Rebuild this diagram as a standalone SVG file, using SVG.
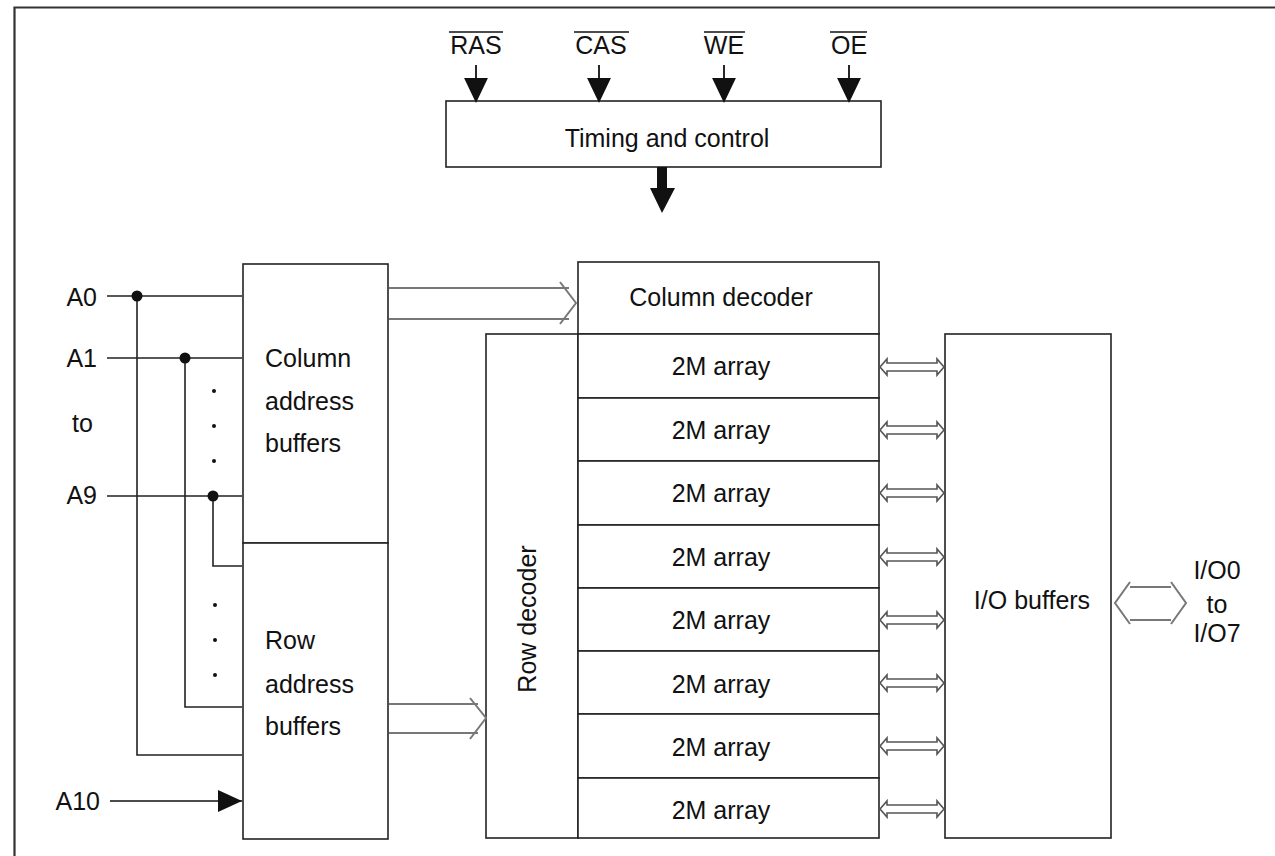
<svg xmlns="http://www.w3.org/2000/svg" width="1275" height="856" viewBox="0 0 1275 856">
<style>
text{font-family:"Liberation Sans",Arial,sans-serif;font-size:25px;fill:#111}
.box{fill:#fff;stroke:#222;stroke-width:1.6}
.w{stroke:#222;stroke-width:1.6;fill:none}
.hol{fill:#fff;stroke:#555;stroke-width:1.6;stroke-linejoin:miter}
.big{fill:none;stroke:#777;stroke-width:2}
.m{text-anchor:middle}
</style>
<defs>
<path id="dbl" d="M880,0 L887,-8 L887,-4 L937,-4 L937,-8 L944,0 L937,8 L937,4 L887,4 L887,8 Z"/>
<path id="down" d="M0,65 L0,80 M-10.5,79 L10.5,79 L0,101 Z"/>
</defs>
<g id="frame"><path d="M14.5,856 L14.5,7.5 L1275,7.5" fill="none" stroke="#333" stroke-width="2.2"/></g>

<g id="signals">
<text x="476" y="54" class="m">RAS</text><line x1="449" y1="32" x2="503" y2="32" stroke="#111" stroke-width="1.4"/>
<text x="601" y="54" class="m">CAS</text><line x1="574" y1="32" x2="629" y2="32" stroke="#111" stroke-width="1.4"/>
<text x="724" y="54" class="m">WE</text><line x1="704" y1="32" x2="745" y2="32" stroke="#111" stroke-width="1.4"/>
<text x="849" y="54" class="m">OE</text><line x1="830" y1="32" x2="867" y2="32" stroke="#111" stroke-width="1.4"/>
</g>

<g id="timing"><rect class="box" x="446" y="101" width="435" height="66"/><text x="667" y="147" class="m">Timing and control</text></g>

<g id="colbuf"><rect class="box" x="243" y="264" width="145" height="279"/><text x="265" y="367">Column</text><text x="265" y="410">address</text><text x="265" y="452">buffers</text></g>
<g id="rowbuf"><rect class="box" x="243" y="543" width="145" height="296"/><text x="265" y="649">Row</text><text x="265" y="693">address</text><text x="265" y="735">buffers</text></g>
<g id="coldec"><rect class="box" x="578" y="262" width="301" height="72"/><text x="721" y="306" class="m">Column decoder</text></g>
<g id="rowdec"><rect class="box" x="486" y="334" width="92" height="504"/><text transform="translate(536,619) rotate(-90)" class="m">Row decoder</text></g>
<g id="arrays">
<rect class="box" x="578" y="334" width="301" height="64"/><text x="721" y="375" class="m">2M array</text>
<rect class="box" x="578" y="398" width="301" height="63"/><text x="721" y="439" class="m">2M array</text>
<rect class="box" x="578" y="461" width="301" height="64"/><text x="721" y="502" class="m">2M array</text>
<rect class="box" x="578" y="525" width="301" height="63"/><text x="721" y="566" class="m">2M array</text>
<rect class="box" x="578" y="588" width="301" height="63"/><text x="721" y="629" class="m">2M array</text>
<rect class="box" x="578" y="651" width="301" height="63"/><text x="721" y="693" class="m">2M array</text>
<rect class="box" x="578" y="714" width="301" height="64"/><text x="721" y="756" class="m">2M array</text>
<rect class="box" x="578" y="778" width="301" height="60"/><text x="721" y="819" class="m">2M array</text>
</g>
<g id="iobuf"><rect class="box" x="945" y="334" width="166" height="504"/><text x="1032" y="609" class="m">I/O buffers</text></g>

<g id="labels">
<text x="97" y="306" text-anchor="end">A0</text>
<text x="97" y="367" text-anchor="end">A1</text>
<text x="82.5" y="432" class="m">to</text>
<text x="97" y="504" text-anchor="end">A9</text>
<text x="100" y="810" text-anchor="end">A10</text>
<text x="1217" y="579" class="m">I/O0</text>
<text x="1217" y="613" class="m">to</text>
<text x="1217" y="642" class="m">I/O7</text>
</g>

<g id="connectors">
<g stroke="#111" stroke-width="1.8" fill="#111">
<use href="#down" x="476"/><use href="#down" x="599"/><use href="#down" x="724"/><use href="#down" x="849"/>
</g>
<path d="M657,167 L667,167 L667,188 L675,188 L662,213 L650,188 L657,188 Z" fill="#111"/>
<g class="w">
<path d="M107,296 L242,296 M137,296 L137,755 L242,755"/>
<path d="M107,358 L242,358 M185,358 L185,707 L242,707"/>
<path d="M107,496 L242,496 M213,496 L213,566 L242,566"/>
</g>
<line x1="110" y1="801" x2="242" y2="801" stroke="#111" stroke-width="1.6"/>
<path d="M218,790 L242,801 L218,812 Z" fill="#111"/>
<g fill="#111">
<circle cx="137" cy="296" r="5.5"/><circle cx="185" cy="358" r="5.5"/><circle cx="213" cy="496" r="5.5"/>
<circle cx="214" cy="391" r="2"/><circle cx="214" cy="426" r="2"/><circle cx="214" cy="461" r="2"/>
<circle cx="215" cy="605" r="2"/><circle cx="215" cy="640" r="2"/><circle cx="215" cy="675" r="2"/>
</g>
<path class="big" d="M389,288 L569,288 M389,319 L569,319 M560,282 L576,303 L560,324"/>
<path class="big" d="M389,704 L478,704 M389,733 L478,733 M470,698 L486,718 L470,739"/>
<path class="big" d="M1130,582 L1115,603 L1130,624 M1171,582 L1186,603 L1171,624 M1130,587 L1171,587 M1130,620 L1171,620"/>
<g class="hol">
<use href="#dbl" y="367"/><use href="#dbl" y="430"/><use href="#dbl" y="493"/><use href="#dbl" y="557"/>
<use href="#dbl" y="620"/><use href="#dbl" y="683"/><use href="#dbl" y="746"/><use href="#dbl" y="809"/>
</g>
</g>
</svg>
